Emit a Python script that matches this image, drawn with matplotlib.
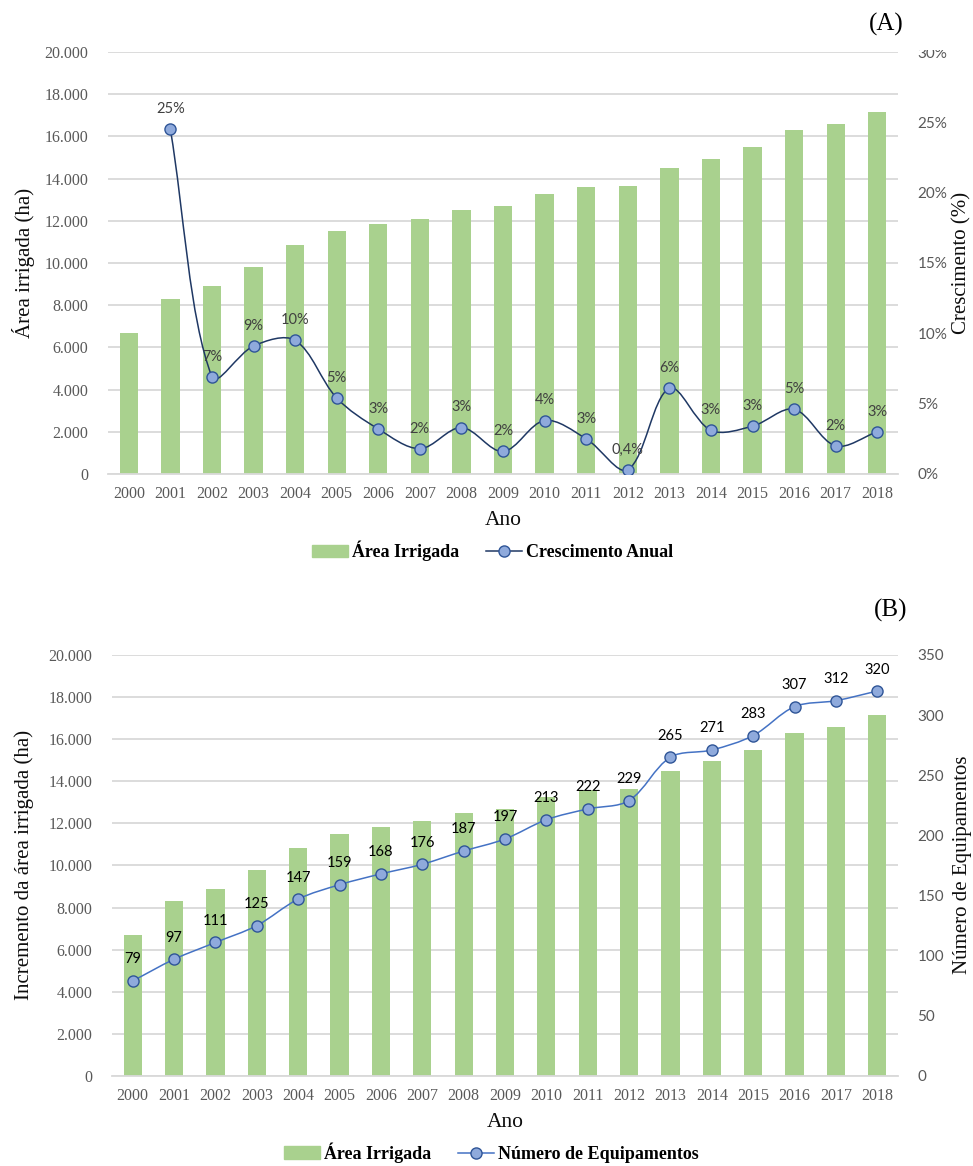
import numpy as np
import matplotlib
matplotlib.use("Agg")
import matplotlib.pyplot as plt
from matplotlib.path import Path
from matplotlib.patches import PathPatch, Patch
from matplotlib.lines import Line2D
from matplotlib.ticker import FuncFormatter, MultipleLocator
from matplotlib.transforms import Bbox, TransformedBbox

# data
anos = ['2000', '2001', '2002', '2003', '2004', '2005', '2006', '2007', '2008', '2009',
        '2010', '2011', '2012', '2013', '2014', '2015', '2016', '2017', '2018']
area_irrigada = [6700, 8300, 8900, 9800, 10850, 11500, 11850, 12100, 12500, 12700,
                 13250, 13600, 13650, 14500, 14950, 15500, 16300, 16600, 17150]
crescimento = [np.nan, 24.5, 6.9, 9.1, 9.5, 5.4, 3.2, 1.8, 3.3, 1.6,
               3.8, 2.5, 0.3, 6.1, 3.1, 3.4, 4.6, 2.0, 3.0]
crescimento_rotulos = ['', '25%', '7%', '9%', '10%', '5%', '3%', '2%', '3%', '2%',
                       '4%', '3%', '0,4%', '6%', '3%', '3%', '5%', '2%', '3%']
equipamentos = [79, 97, 111, 125, 147, 159, 168, 176, 187, 197,
                213, 222, 229, 265, 271, 283, 307, 312, 320]

verde = '#A9D18E'
grade = '#D9D9D9'
cinza = '#595959'
serif = 'Liberation Serif'
sans = 'Lato'


def smooth_path(x, y, trans):
    # excel-like smoothed line: bezier through the points, tangents weighted
    # by the on-screen length of the neighbouring segments
    n = len(x)
    p = np.column_stack([x, y]).astype(float)
    s = trans.transform(p)
    seg = np.hypot(*np.diff(s, axis=0).T)
    fwd, bwd = [], []
    for i in range(n):
        if i == 0:
            d = p[1] - p[0]
            fwd.append(p[0] + d / 3)
            bwd.append(p[0])
            continue
        if i == n - 1:
            d = p[i] - p[i - 1]
            bwd.append(p[i] - d / 3)
            fwd.append(p[i])
            continue
        d = p[i + 1] - p[i - 1]
        l1, l2 = seg[i - 1], seg[i]
        fwd.append(p[i] + d * l2 / (l1 + l2) / 3)
        bwd.append(p[i] - d * l1 / (l1 + l2) / 3)
    verts = [tuple(p[0])]
    codes = [Path.MOVETO]
    for i in range(n - 1):
        verts += [tuple(fwd[i]), tuple(bwd[i + 1]), tuple(p[i + 1])]
        codes += [Path.CURVE4] * 3
    return Path(verts, codes)


def base_axes(ax):
    x = np.arange(len(anos))
    ax.bar(x, area_irrigada, 0.44, color=verde, zorder=2)
    ax.set_xlim(-0.5, len(anos) - 0.5)
    ax.set_ylim(0, 20000)
    ax.yaxis.set_major_locator(MultipleLocator(2000))
    ax.yaxis.set_major_formatter(FuncFormatter(lambda v, p: f'{int(v):,}'.replace(',', '.')))
    ax.set_xticks(x)
    ax.set_xticklabels(anos)
    ax.grid(axis='y', color=grade, linewidth=1.3)
    ax.set_axisbelow(True)
    for s in ['top', 'left', 'right']:
        ax.spines[s].set_visible(False)
    ax.spines['bottom'].set_color(grade)
    ax.spines['bottom'].set_linewidth(1.3)
    ax.tick_params(axis='both', length=0, colors=cinza, labelsize=11.5)
    ax.tick_params(axis='y', pad=14)
    ax.tick_params(axis='x', pad=9)
    for t in ax.get_xticklabels() + ax.get_yticklabels():
        t.set_fontfamily(serif)
    ax.set_xlabel('Ano', fontsize=15.5, fontfamily=serif, color='#0D0D0D', labelpad=6)
    return x


def right_axes(ax2):
    ax2.tick_params(axis='y', length=0, colors=cinza, labelsize=11, pad=14)
    for t in ax2.get_yticklabels():
        t.set_fontfamily(sans)
    for s in ax2.spines.values():
        s.set_visible(False)


fig = plt.figure(figsize=(9.73, 11.66), dpi=100)

# ---------------- (A)
ax = fig.add_axes([0.111, 0.5935, 0.812, 0.3619])
x = base_axes(ax)
ax2 = ax.twinx()
ax2.set_ylim(0, 30)
ax2.yaxis.set_major_locator(MultipleLocator(5))
ax2.yaxis.set_major_formatter(FuncFormatter(lambda v, p: f'{int(round(v))}%'))
right_axes(ax2)

xs = x[1:]
ys = np.array(crescimento[1:])
ax2.add_patch(PathPatch(smooth_path(xs, ys, ax2.transData), fill=False, edgecolor='#1F3864',
                        linewidth=1.1, zorder=3))
ax2.plot(xs, ys, 'o', ms=8, mfc='#8FAADC', mec='#2F5597', mew=1.0, zorder=4)
for xi, yi, lab in zip(xs, ys, crescimento_rotulos[1:]):
    ax2.annotate(lab, (xi, yi), xytext=(0, 14.5), textcoords='offset points',
                 ha='center', va='center', fontsize=10.5, fontfamily=sans, color='#404040', zorder=5)

fig.text(24 / 973, 1 - 263 / 1166, 'Área irrigada (ha)', rotation=90, ha='center', va='center',
         fontsize=15, fontfamily=serif, color='#0D0D0D')
fig.text(962 / 973, 1 - 263 / 1166, 'Crescimento (%)', rotation=90, ha='center', va='center',
         fontsize=15, fontfamily=serif, color='#0D0D0D')
fig.text(886 / 973, 1 - 24 / 1166, '(A)', ha='center', va='center', fontsize=18, fontfamily=serif)

h1 = [Patch(color=verde), Line2D([], [], color='#1F3864', lw=1.1, marker='o', ms=8,
                                 mfc='#8FAADC', mec='#2F5597')]
fig.legend(h1, ['Área Irrigada', 'Crescimento Anual'], loc='center', bbox_to_anchor=(0.506, 0.5274),
           ncol=2, frameon=False, handlelength=2.0, handletextpad=0.2, columnspacing=1.5,
           prop={'family': serif, 'weight': 'bold', 'size': 13})

# ---------------- (B)
bx = fig.add_axes([0.1151, 0.0772, 0.8078, 0.3611])
x = base_axes(bx)
bx2 = bx.twinx()
bx2.set_ylim(0, 350)
bx2.yaxis.set_major_locator(MultipleLocator(50))
right_axes(bx2)

ye = np.array(equipamentos, dtype=float)
bx2.add_patch(PathPatch(smooth_path(x, ye, bx2.transData), fill=False, edgecolor='#4472C4',
                        linewidth=1.1, zorder=3))
bx2.plot(x, ye, 'o', ms=8, mfc='#8FAADC', mec='#2F5597', mew=1.0, zorder=4)
for xi, yi in zip(x, equipamentos):
    bx2.annotate(str(yi), (xi, yi), xytext=(0, 15.5), textcoords='offset points',
                 ha='center', va='center', fontsize=10.5, fontfamily=sans, color='black', zorder=5)

fig.text(24 / 973, 1 - 865 / 1166, 'Incremento da área irrigada (ha)', rotation=90, ha='center',
         va='center', fontsize=15, fontfamily=serif, color='#0D0D0D')
fig.text(962 / 973, 1 - 865 / 1166, 'Número de Equipamentos', rotation=90, ha='center', va='center',
         fontsize=15, fontfamily=serif, color='#0D0D0D')
fig.text(891 / 973, 1 - 610 / 1166, '(B)', ha='center', va='center', fontsize=18, fontfamily=serif)

h2 = [Patch(color=verde), Line2D([], [], color='#4472C4', lw=1.1, marker='o', ms=8,
                                 mfc='#8FAADC', mec='#2F5597')]
fig.legend(h2, ['Área Irrigada', 'Número de Equipamentos'], loc='center', bbox_to_anchor=(0.505, 0.0115),
           ncol=2, frameon=False, handlelength=2.0, handletextpad=0.2, columnspacing=1.5,
           prop={'family': serif, 'weight': 'bold', 'size': 13})

# top "30%" label is cut in the original
fig.canvas.draw()
clip = TransformedBbox(Bbox([[0, 0], [1, 1 - 50 / 1166]]), fig.transFigure)
for t in ax2.get_yticklabels():
    if t.get_text() == '30%':
        t.set_clip_box(clip)
        t.set_clip_on(True)

fig.savefig('out.png', dpi=100, facecolor='white')
